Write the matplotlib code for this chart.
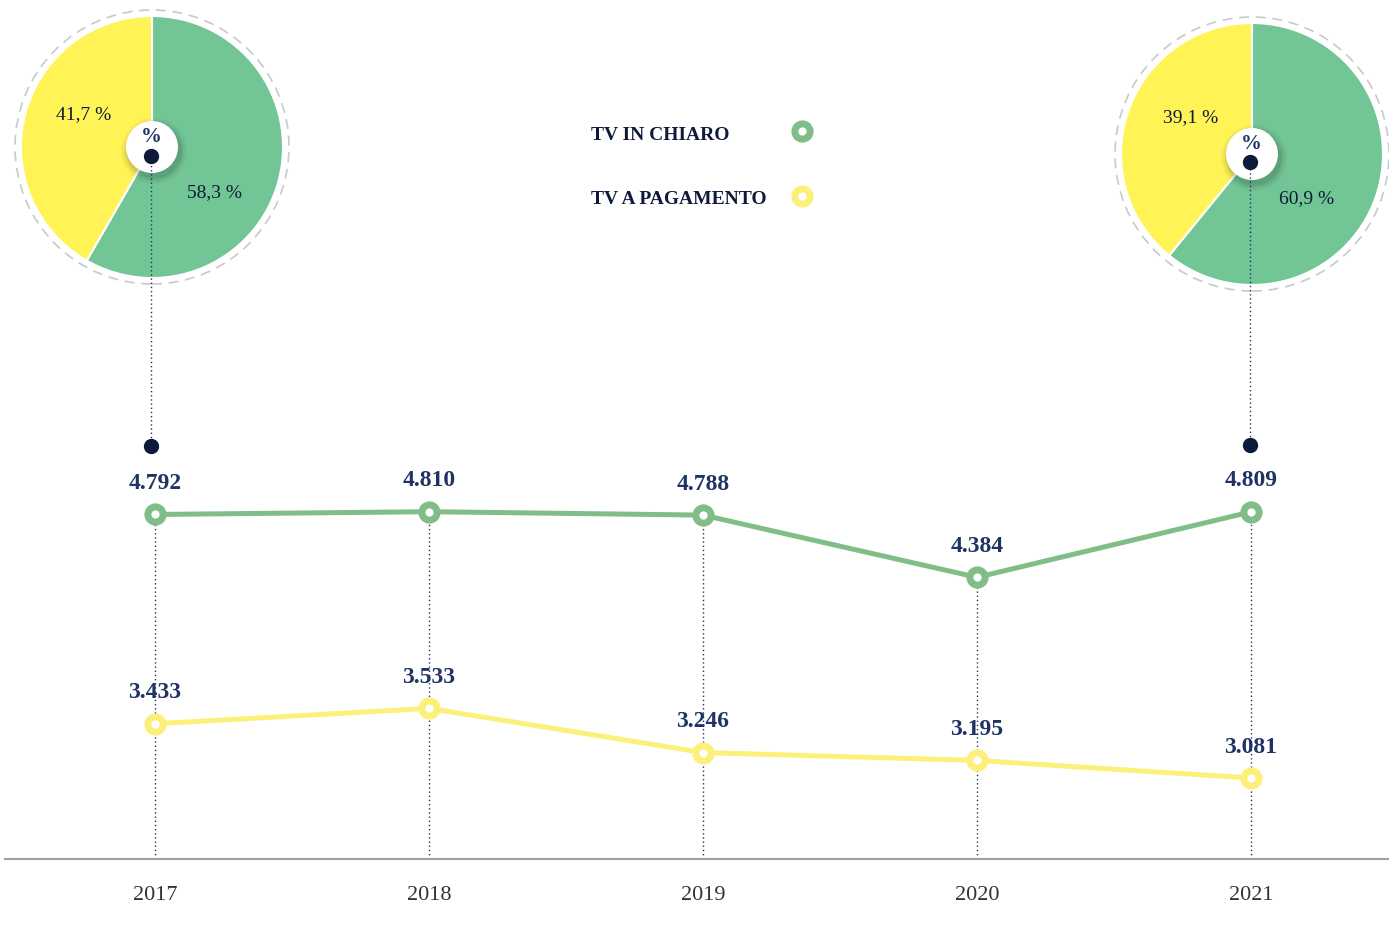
import matplotlib
matplotlib.use("Agg")
import matplotlib.pyplot as plt
from matplotlib.patches import Circle

years = ["2017", "2018", "2019", "2020", "2021"]
tv_chiaro = [4792, 4810, 4788, 4384, 4809]
tv_pagamento = [3433, 3533, 3246, 3195, 3081]
series_names = ["TV IN CHIARO", "TV A PAGAMENTO"]
pie_2017 = [58.3, 41.7]   # chiaro, pagamento
pie_2021 = [60.9, 39.1]

W, H = 1389, 929
GREEN_LINE = "#80bd87"
YELLOW_LINE = "#fdf07a"
GREEN_PIE = "#72c594"
YELLOW_PIE = "#fff356"
NAVY = "#1f3463"
DARK = "#0e1a3a"
SERIF = "Liberation Serif"


def fmt_thousands(v):
    return f"{v:,}".replace(",", ".")


def fmt_pct(v):
    return f"{v:.1f} %".replace(".", ",")


fig = plt.figure(figsize=(W / 100, H / 100), dpi=100)
fig.patch.set_facecolor("white")

# main line chart, bottom spine is the baseline
ax = fig.add_axes([5 / W, 69 / H, (W - 5) / W, 860 / H])
ax.set_zorder(2)
ax.patch.set_alpha(0)
ax.set_xlim(-150 / 274, (W - 155) / 274)
ax.set_ylim(2555, 8139)
for s in ["top", "right", "left"]:
    ax.spines[s].set_visible(False)
ax.spines["bottom"].set_color("#a0a0a0")
ax.spines["bottom"].set_linewidth(1.5)
ax.set_yticks([])
x = list(range(len(years)))
ax.set_xticks(x)
ax.set_xticklabels(years, fontsize=16, family=SERIF, color="#333333")
ax.tick_params(axis="x", length=0, pad=19)

ax.vlines(x, 2555, tv_chiaro, colors=NAVY, linestyles=(0, (1, 2)), lw=1, zorder=1)

for vals, col in [(tv_chiaro, GREEN_LINE), (tv_pagamento, YELLOW_LINE)]:
    ax.plot(x, vals, color=col, lw=3.6, marker="o", ms=11, mfc="white",
            mec=col, mew=5, zorder=4, solid_capstyle="round")
    for i, v in enumerate(vals):
        ax.annotate(fmt_thousands(v), (i, v), xytext=(0, 23), textcoords="offset points",
                    ha="center", va="center", fontsize=17, fontweight="bold",
                    color=NAVY, family=SERIF, zorder=5)


def px_to_data(px, py):
    return ax.transData.inverted().transform((px, H - py))


# pies
def draw_pie(values, cx, cy, lab_offsets):
    size = 300
    pax = fig.add_axes([(cx - size / 2) / W, (H - cy - size / 2) / H, size / W, size / H])
    pax.set_zorder(1)
    pax.pie(values, colors=[GREEN_PIE, YELLOW_PIE], startangle=90, counterclock=False,
            radius=131, wedgeprops=dict(edgecolor="white", linewidth=1.5))
    pax.add_patch(Circle((0, 0), 137, fill=False, ec="#c9c9c9", lw=1.2, ls=(0, (6, 4))))
    for r, a in [(33, 0.03), (31, 0.04), (29, 0.05), (27.5, 0.06)]:
        pax.add_patch(Circle((2, -4), r, color="black", alpha=a, lw=0, zorder=3))
    pax.add_patch(Circle((0, 0), 26, color="white", lw=0, zorder=4))
    pax.text(-1, 11, "%", ha="center", va="center", fontsize=15, fontweight="bold",
             color=NAVY, family=SERIF, zorder=5)
    for v, (dx, dy) in zip(values, lab_offsets):
        pax.text(dx, dy, fmt_pct(v), ha="center", va="center", fontsize=14,
                 family=SERIF, color=DARK, zorder=5)
    pax.set_xlim(-size / 2, size / 2)
    pax.set_ylim(-size / 2, size / 2)
    pax.set_aspect("equal")
    pax.axis("off")


draw_pie(pie_2017, 152, 148, [(62, -45), (-68, 33)])
draw_pie(pie_2021, 1252, 155, [(55, -44), (-61, 37)])

# connectors from pie centres to dots above the lines
for (px, py_top, py_bot) in [(151, 157, 447), (1250, 163, 446)]:
    xd, yt = px_to_data(px, py_top)
    _, yb = px_to_data(px, py_bot)
    ax.vlines(xd, yb, yt, colors=NAVY, linestyles=(0, (1, 2)), lw=1, zorder=3)
    ax.plot([xd, xd], [yt, yb], ls="none", marker="o", ms=10, color=DARK, zorder=6)

# legend: left-aligned labels, markers in a column on the right
for name, col, py in zip(series_names, (GREEN_LINE, YELLOW_LINE), (132, 197)):
    fig.text(591 / W, 1 - (py + 3) / H, name, ha="left", va="center", fontsize=14,
             fontweight="bold", color=DARK, family=SERIF)
    mx, my = px_to_data(802, py)
    ax.plot([mx], [my], ls="none", marker="o", ms=11, mfc="white", mec=col, mew=5,
            zorder=6, clip_on=False)

fig.savefig("out.png", dpi=100, facecolor="white")
